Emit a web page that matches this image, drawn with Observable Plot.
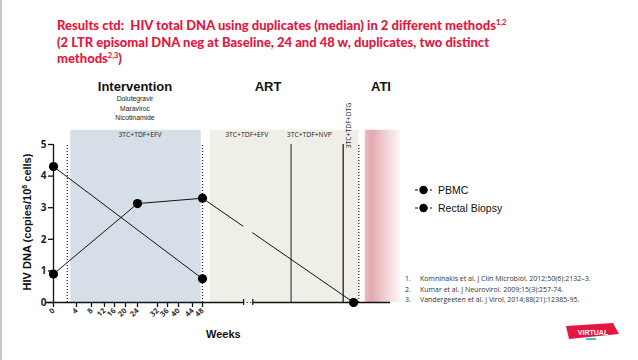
<!DOCTYPE html>
<html><head><meta charset="utf-8">
<script src="https://cdn.jsdelivr.net/npm/d3@7"></script>
<script src="https://cdn.jsdelivr.net/npm/@observablehq/plot@0.6"></script>
<style>
body{margin:0;background:#fff;}
#wrap{position:relative;width:638px;height:360px;overflow:hidden;font-family:"Liberation Sans",Arial,sans-serif;}
#wrap .t{position:absolute;white-space:nowrap;}
#title{left:57px;top:17px;color:#e4173e;font-family:Lato,"Open Sans",sans-serif;font-weight:900;font-size:13px;line-height:16.5px;}
#title sup{font-size:7.5px;line-height:0;}
.hd{font-weight:bold;font-size:13px;color:#111;transform:translateX(-50%);}
.sub{font-size:6.8px;color:#222;transform:translateX(-50%);line-height:9.5px;text-align:center;}
.leg{font-size:10.5px;color:#111;}
.ref{font-family:"Open Sans",sans-serif;font-size:7px;color:#333;line-height:10.5px;}
.axl{font-weight:bold;font-size:11px;color:#111;}
#border{position:absolute;left:0;top:0;width:2px;height:360px;background:#c8c8c8;}
</style>
</head><body>
<div id="wrap">
<div id="border"></div>
<div id="plot" style="position:absolute;left:0;top:0"></div>
<div id="title" class="t">Results ctd:&nbsp; HIV total DNA using duplicates (median) in 2 different methods<sup>1,2</sup><br>(2 LTR episomal DNA neg at Baseline, 24 and 48 w, duplicates, two distinct<br>methods<sup>2,3</sup>)</div>
<div class="t hd" style="left:135px;top:79px">Intervention</div>
<div class="t sub" style="left:135px;top:94px">Dolutegravir<br>Maraviroc<br>Nicotinamide</div>
<div class="t hd" style="left:268px;top:79px">ART</div>
<div class="t hd" style="left:381px;top:79px">ATI</div>
<div class="t leg" style="left:438px;top:184px">PBMC</div>
<div class="t leg" style="left:438px;top:202px">Rectal Biopsy</div>
<div class="t ref" style="left:405px;top:274px" id="refs"></div>
<div class="t axl" style="left:27px;top:222px;transform:translate(-50%,-50%) rotate(-90deg)">HIV DNA (copies/10<sup style="font-size:7px">6</sup> cells)</div>
<div class="t axl" style="left:206px;top:328px">Weeks</div>
<svg style="position:absolute;left:563px;top:320px" width="60" height="26">
 <path d="M3,6 L50,3 L56,14 L6,19 Z" fill="#e4173e"/>
 <text x="30" y="14.5" font-size="7" font-weight="bold" fill="#fff" text-anchor="middle" font-family="Liberation Sans">VIRTUAL</text>
 <rect x="23" y="18" width="10" height="2" fill="#3cc8c8"/>
</svg>
</div>
<script>
// ---- data ----
const weekTicks = [0, 4, 8, 12, 16, 20, 24, 32, 36, 40, 44, 48];
const seriesNames = ["PBMC", "Rectal Biopsy"];
const pbmcWeeks = [0, 48];
const pbmcValues = [4.3, 0.75];
const rectalWeeks = [0, 24, 48, 106];
const rectalValues = [0.9, 3.13, 3.3, 0];
const yTicks = [0, 1, 2, 3, 4, 5];
const phases = [
  {name: "Intervention", start: 3, end: 47.5},
  {name: "ART", start: 51, end: 108},
  {name: "ATI", start: 110.5, end: 124}
];
const regimens = [
  {label: "3TC+TDF+EFV", week: 25},
  {label: "3TC+TDF+EFV", week: 65},
  {label: "3TC+TDF+NVP", week: 89}
];
const dtgLabel = {label: "3TC+TDF+DTG", week: 104};
const regimenSwitches = [82, 102];
const dottedMarks = [2.4, 48, 108];
const axisBreak = [63.8, 67.3];
const axisEnd = 120.2;
const references = [
  "Komninakis et al. J Clin Microbiol. 2012;50(6):2132–3.",
  "Kumar et al. J Neurovirol. 2009;15(3):257-74.",
  "Vandergeeten et al. J Virol, 2014;88(21):12385-95."
];

document.getElementById("refs").innerHTML = references.map((r,i)=>`<span style="display:inline-block;width:15px">${i+1}.</span>${r}`).join("<br>");

const pbmc = pbmcWeeks.map((w,i)=>({week:w, value:pbmcValues[i], series:seriesNames[0]}));
const rectal = rectalWeeks.map((w,i)=>({week:w, value:rectalValues[i], series:seriesNames[1]}));

const xDomain = [...weekTicks, 124];
const xRange = [53, 76, 91, 104, 114, 125, 137, 157, 167, 178, 192, 202, 400];

const chart = Plot.plot({
  width: 638, height: 360,
  marginLeft: 53, marginBottom: 58, marginTop: 0, marginRight: 0,
  x: {type: "linear", domain: xDomain, range: xRange, axis: null},
  y: {domain: [0, 5], range: [302, 144], axis: null},
  marks: [
    () => {
      const ns = "http://www.w3.org/2000/svg";
      const defs = document.createElementNS(ns, "defs");
      defs.innerHTML = `<linearGradient id="atiGrad" x1="0" x2="1" y1="0" y2="0">
        <stop offset="0" stop-color="#eab9bd"/><stop offset="0.2" stop-color="#e4a9ae"/>
        <stop offset="0.6" stop-color="#f1d3d5"/><stop offset="1" stop-color="#fdf5f6"/></linearGradient>`;
      return defs;
    },
    Plot.rect([phases[0]], {x1: "start", x2: "end", y1: 0, y2: 5.45, fill: "#d6dfe8"}),
    Plot.rect([phases[1]], {x1: "start", x2: "end", y1: 0, y2: 5.45, fill: "#f0efe7"}),
    Plot.rect([phases[2]], {x1: "start", x2: "end", y1: 0, y2: 5.45, fill: "url(#atiGrad)"}),
    Plot.text(regimens, {x: "week", y: 5.3, text: "label", fontSize: 6.8, fill: "#222", fontFamily: "Open Sans"}),
    Plot.text([dtgLabel], {x: "week", y: 5.6, text: "label", rotate: -90, fontSize: 6.8, fill: "#222", fontFamily: "Open Sans"}),
    Plot.ruleX(dottedMarks, {y1: 0, y2: 5, stroke: "#222", strokeDasharray: "1,2", strokeWidth: 1.2}),
    Plot.ruleX([regimenSwitches[0]], {y1: 0, y2: 5, stroke: "#666", strokeWidth: 1.5}),
    Plot.ruleX([regimenSwitches[1]], {y1: 0, y2: 5, stroke: "#111", strokeWidth: 1.2}),
    // data lines
    Plot.line(pbmc, {x: "week", y: "value", stroke: "#111", strokeWidth: 1}),
    Plot.line(rectal, {x: "week", y: "value", stroke: "#111", strokeWidth: 1}),
    // axis break gap covering line
    Plot.rect([axisBreak], {x1: d => d[0], x2: d => d[1], y1: 0.05, y2: 5, fill: "#f0efe7"}),
    // axes
    Plot.ruleX([0], {y1: 0, y2: 5, stroke: "#111", strokeWidth: 1.3}),
    Plot.axisY({ticks: yTicks, tickFormat: d3.format("d"), tickSize: 5, tickPadding: 2, fontSize: 10, fontWeight: "bold", fill: "#222", stroke: "#111", strokeWidth: 1.3, label: null}),
    Plot.ruleY([0], {x1: -1.3, x2: axisBreak[0], stroke: "#111", strokeWidth: 1.3}),
    Plot.ruleY([0], {x1: axisBreak[1], x2: axisEnd, stroke: "#111", strokeWidth: 1.3}),
    Plot.ruleY([0], {x1: axisBreak[0], x2: axisBreak[1], stroke: "#111", strokeWidth: 1.2, strokeDasharray: "1,2.5"}),
    Plot.ruleX(axisBreak, {y1: 0, y2: 0, insetTop: -3, insetBottom: -3, stroke: "#111", strokeWidth: 1.2}),
    Plot.axisX({ticks: weekTicks, tickFormat: d3.format("d"), tickSize: 5, tickRotate: -45, fontSize: 7.5, fontWeight: "bold", fill: "#333", stroke: "#111", strokeWidth: 1.3, label: null, tickPadding: 2}),
    // dots
    Plot.dot(pbmc, {x: "week", y: "value", r: 4.6, fill: "#000"}),
    Plot.dot(rectal, {x: "week", y: "value", r: 4.6, fill: "#000"})
  ]
});
document.getElementById("plot").appendChild(chart);

// legend glyphs
const legSvg = d3.select("#wrap").append("svg").attr("width", 30).attr("height", 40)
  .style("position","absolute").style("left","412px").style("top","180px");
seriesNames.forEach((n, i) => {
  const g = legSvg.append("g").attr("transform", `translate(0,${10 + i*18})`);
  g.append("line").attr("x1", 3).attr("x2", 20).attr("stroke", "#111").attr("stroke-width", 1).attr("stroke-dasharray", "3,2");
  g.append("circle").attr("cx", 11.5).attr("r", 4.2).attr("fill", "#000");
});
</script>
</body></html>
